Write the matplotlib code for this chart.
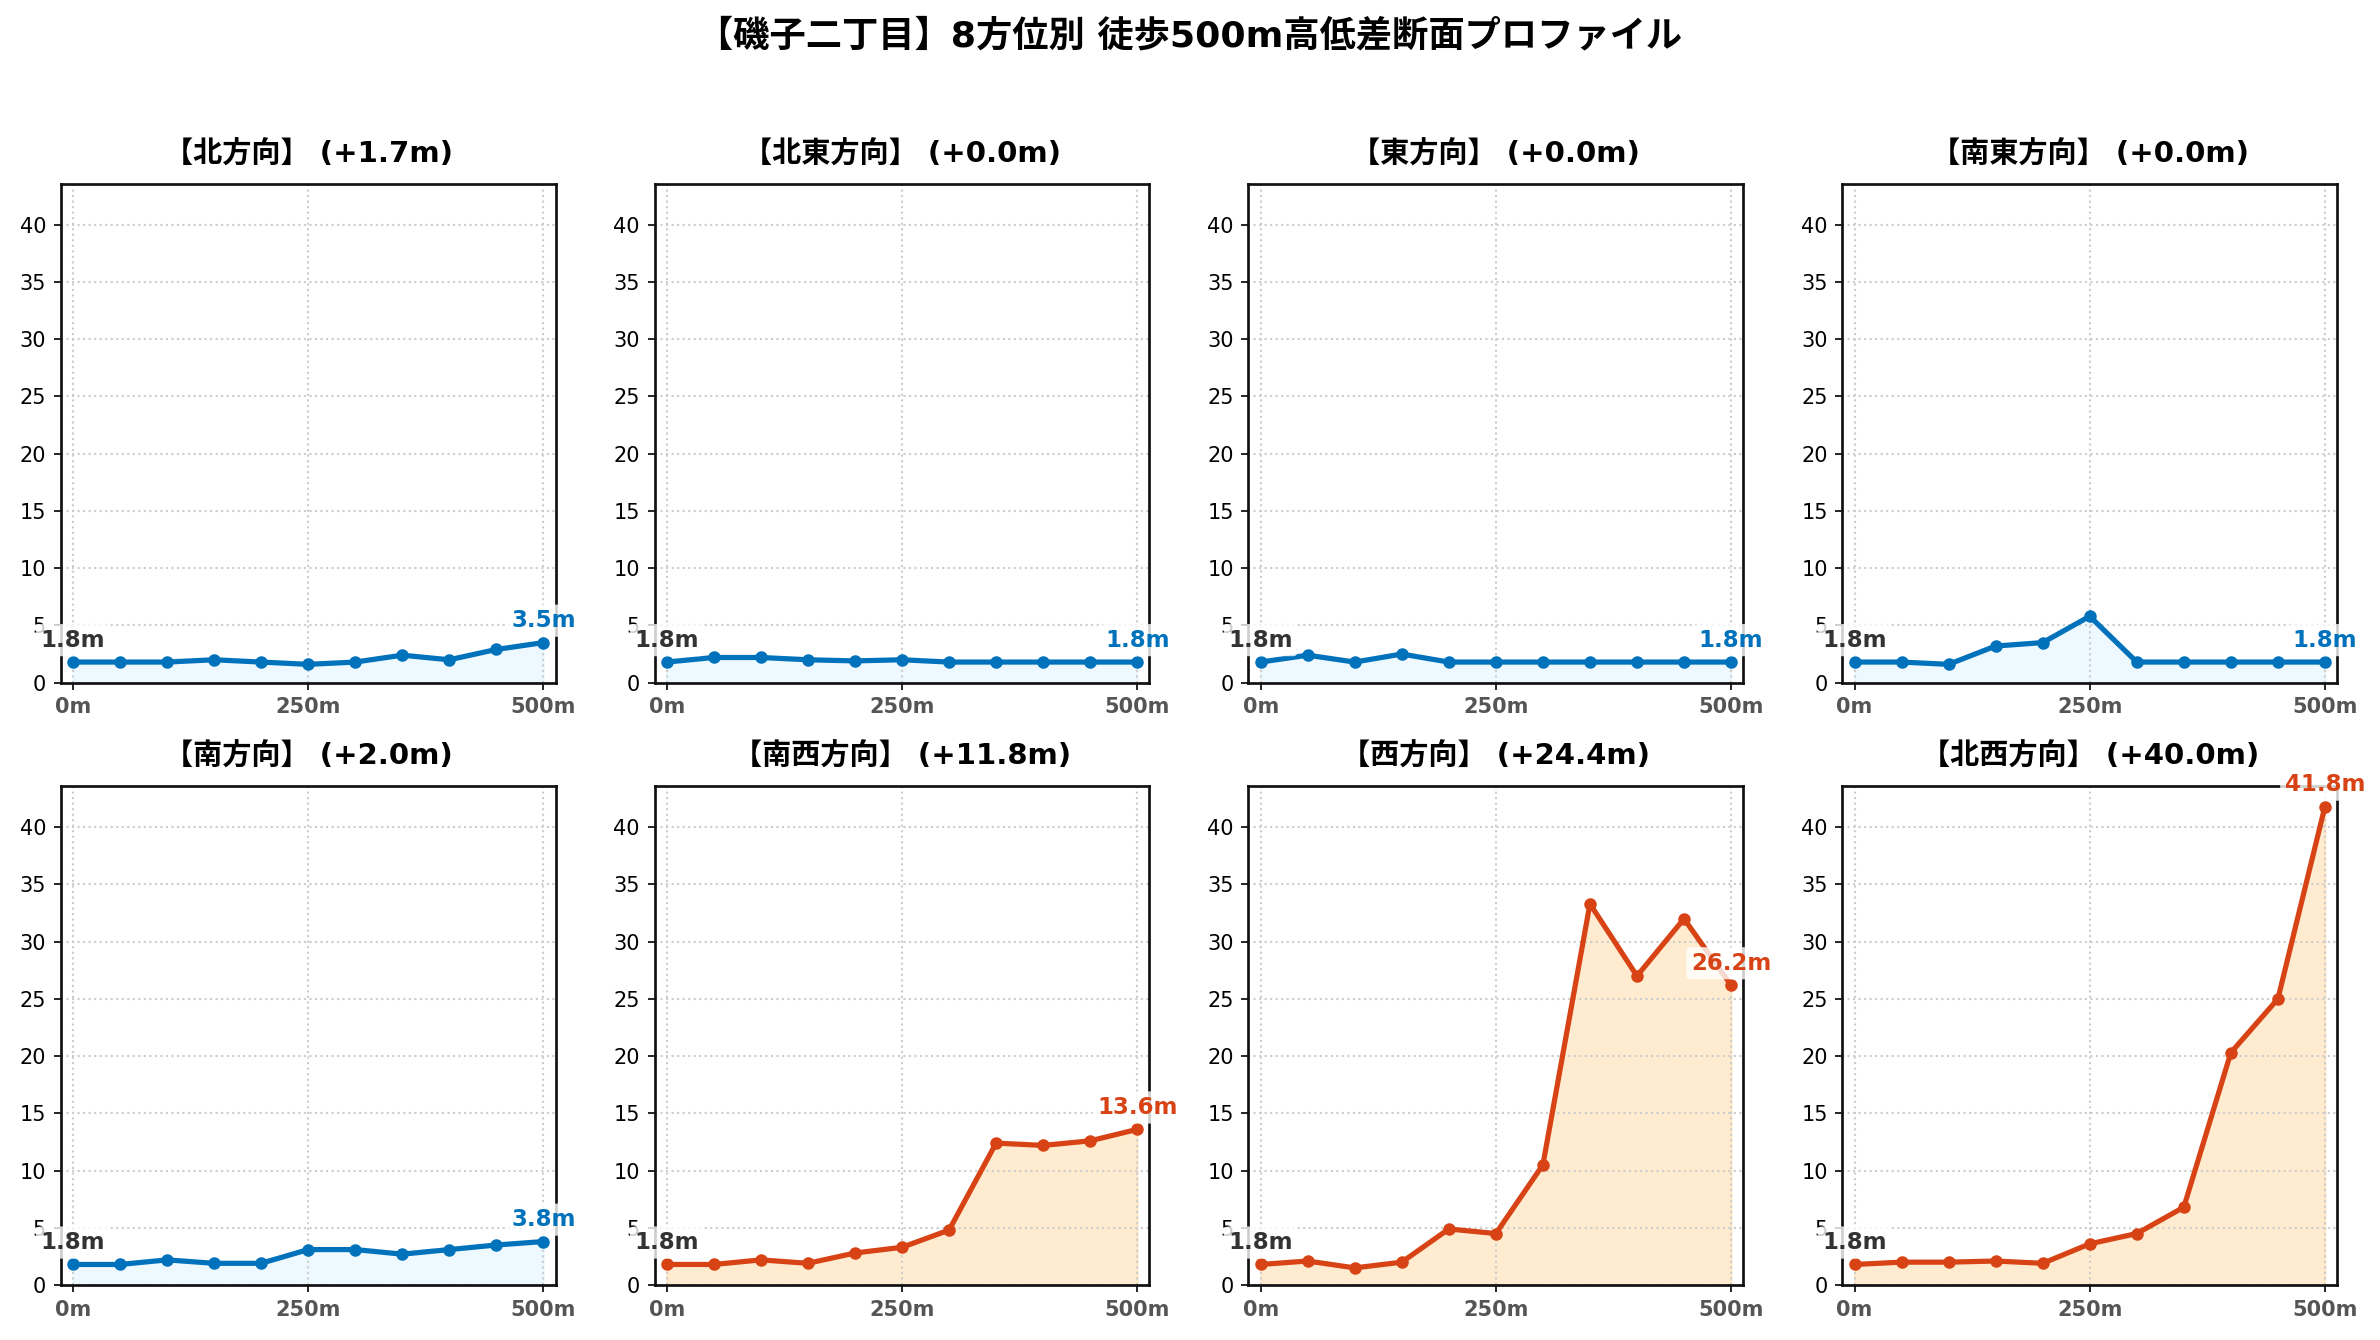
import matplotlib
matplotlib.use("Agg")
import matplotlib.pyplot as plt
import numpy as np

plt.rcParams['font.family'] = ['DejaVu Sans', 'Noto Sans CJK JP']

distances = [0, 50, 100, 150, 200, 250, 300, 350, 400, 450, 500]
directions = ["北方向", "北東方向", "東方向", "南東方向", "南方向", "南西方向", "西方向", "北西方向"]
elev_n = [1.8, 1.8, 1.8, 2.0, 1.8, 1.6, 1.8, 2.4, 2.0, 2.9, 3.5]
elev_ne = [1.8, 2.2, 2.2, 2.0, 1.9, 2.0, 1.8, 1.8, 1.8, 1.8, 1.8]
elev_e = [1.8, 2.4, 1.8, 2.5, 1.8, 1.8, 1.8, 1.8, 1.8, 1.8, 1.8]
elev_se = [1.8, 1.8, 1.6, 3.2, 3.5, 5.8, 1.8, 1.8, 1.8, 1.8, 1.8]
elev_s = [1.8, 1.8, 2.2, 1.9, 1.9, 3.1, 3.1, 2.7, 3.1, 3.5, 3.8]
elev_sw = [1.8, 1.8, 2.2, 1.9, 2.8, 3.3, 4.8, 12.4, 12.2, 12.6, 13.6]
elev_w = [1.8, 2.1, 1.5, 2.0, 4.9, 4.5, 10.5, 33.3, 27.0, 32.0, 26.2]
elev_nw = [1.8, 2.0, 2.0, 2.1, 1.9, 3.6, 4.5, 6.8, 20.3, 25.0, 41.8]
gains = ["+1.7m", "+0.0m", "+0.0m", "+0.0m", "+2.0m", "+11.8m", "+24.4m", "+40.0m"]
xtick_vals = [0, 250, 500]
xtick_labels = ["0m", "250m", "500m"]
suptitle = "【磯子二丁目】8方位別 徒歩500m高低差断面プロファイル"

series = [elev_n, elev_ne, elev_e, elev_se, elev_s, elev_sw, elev_w, elev_nw]

BLUE = "#0072BC"
ORANGE = "#D84315"
BLUE_FILL = "#E1F5FE"
ORANGE_FILL = "#FFE0B2"
line_colors = [BLUE, BLUE, BLUE, BLUE, BLUE, ORANGE, ORANGE, ORANGE]
fill_colors = [BLUE_FILL, BLUE_FILL, BLUE_FILL, BLUE_FILL, BLUE_FILL, ORANGE_FILL, ORANGE_FILL, ORANGE_FILL]

fig, axes = plt.subplots(2, 4, figsize=(2380 / 150, 1340 / 150), dpi=150)
fig.subplots_adjust(left=0.0255, right=0.982, top=0.863, bottom=0.041, wspace=0.2, hspace=0.207)

for ax, name, vals, gain, lc, fc in zip(axes.flat, directions, series, gains, line_colors, fill_colors):
    ax.fill_between(distances, vals, 0, color=fc, alpha=0.6, zorder=1)
    ax.plot(distances, vals, color=lc, linewidth=2.5, marker='o', markersize=5, zorder=3)
    ax.set_xlim(-13, 513)
    ax.set_ylim(0, 43.6)
    ax.set_yticks([0, 5, 10, 15, 20, 25, 30, 35, 40])
    ax.set_xticks(xtick_vals)
    ax.set_xticklabels(xtick_labels, fontweight='bold', color='#555555', fontsize=10)
    ax.tick_params(axis='y', labelsize=10)
    ax.grid(True, linestyle=':', color='#cccccc', linewidth=1.0)
    for sp in ax.spines.values():
        sp.set_linewidth(1.3)
        sp.set_color('#111111')
    ax.set_title(f"【{name}】 ({gain})", fontsize=14, fontweight='bold', pad=10)
    ax.annotate(f"{vals[0]:.1f}m", xy=(distances[0], vals[0]), xytext=(0, 5), textcoords='offset points',
                ha='center', va='bottom', fontsize=11, fontweight='bold', color='#333333',
                bbox=dict(boxstyle='round,pad=0.2', facecolor='white', edgecolor='none', alpha=0.8),
                annotation_clip=False, zorder=10)
    ax.annotate(f"{vals[-1]:.1f}m", xy=(distances[-1], vals[-1]), xytext=(0, 5), textcoords='offset points',
                ha='center', va='bottom', fontsize=11, fontweight='bold', color=lc,
                bbox=dict(boxstyle='round,pad=0.2', facecolor='white', edgecolor='none', alpha=0.8),
                annotation_clip=False, zorder=10)

fig.suptitle(suptitle, fontsize=17.4, fontweight='bold', y=0.986)
fig.savefig("out.png", dpi=150)
